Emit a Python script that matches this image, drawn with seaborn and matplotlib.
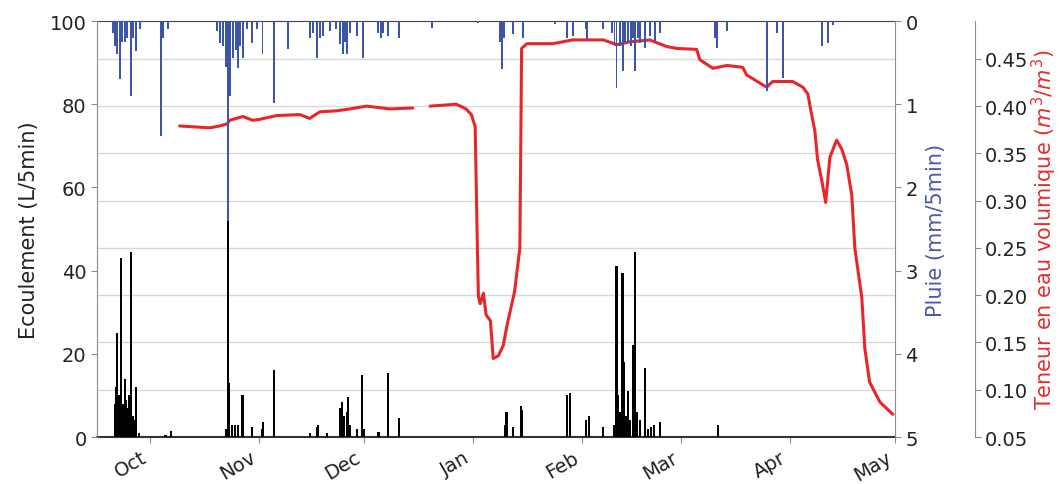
import numpy as np
import pandas as pd
import matplotlib
matplotlib.use("Agg")
import matplotlib.pyplot as plt
import matplotlib.dates as mdates
import seaborn as sns

# flow (L/5min), black bars
flow_time = ["2016-09-21 05:00", "2016-09-21 12:00", "2016-09-21 19:00", "2016-09-22 05:00",
             "2016-09-22 18:00", "2016-09-23 07:00", "2016-09-23 22:00", "2016-09-24 06:00",
             "2016-09-24 12:00", "2016-09-24 20:00", "2016-09-25 00:00", "2016-09-25 14:00",
             "2016-09-26 05:00", "2016-09-26 14:00", "2016-09-27 05:00", "2016-09-28 00:00",
             "2016-10-05 12:00", "2016-10-07 00:00",
             "2016-10-22 15:00", "2016-10-23 05:00", "2016-10-23 14:00", "2016-10-24 07:00",
             "2016-10-25 05:00", "2016-10-26 00:00", "2016-10-27 09:00", "2016-10-30 00:00",
             "2016-11-01 22:00", "2016-11-02 07:00", "2016-11-05 07:00",
             "2016-11-15 12:00", "2016-11-17 12:00", "2016-11-17 19:00", "2016-11-20 10:00",
             "2016-11-24 02:00", "2016-11-24 14:00", "2016-11-25 05:00", "2016-11-26 00:00",
             "2016-11-26 07:00", "2016-11-26 22:00", "2016-11-28 22:00", "2016-11-30 12:00",
             "2016-11-30 22:00", "2016-12-05 02:00", "2016-12-07 17:00", "2016-12-10 19:00",
             "2017-01-10 00:00", "2017-01-10 12:00", "2017-01-12 07:00", "2017-01-14 12:00",
             "2017-01-14 19:00", "2017-01-27 19:00", "2017-01-28 14:00", "2017-02-02 05:00",
             "2017-02-02 22:00", "2017-02-06 22:00",
             "2017-02-10 00:00", "2017-02-10 19:00", "2017-02-11 02:00", "2017-02-11 17:00",
             "2017-02-12 12:00", "2017-02-12 19:00", "2017-02-13 10:00", "2017-02-14 00:00",
             "2017-02-14 17:00", "2017-02-15 14:00", "2017-02-16 00:00", "2017-02-16 14:00",
             "2017-02-17 10:00", "2017-02-18 19:00", "2017-02-19 17:00", "2017-02-20 12:00",
             "2017-02-21 10:00", "2017-02-23 02:00", "2017-03-11 14:00"]
flow_val = [8, 12, 25, 10,
            43, 8, 14, 9,
            6, 7, 10, 44.5,
            5, 4, 12, 1,
            0.5, 1.5,
            2, 52, 13, 3,
            3, 3, 10, 2.5,
            2, 3.5, 16,
            1, 2.5, 3, 1,
            7, 8.5, 5, 6,
            9.5, 3, 2, 15,
            2, 1.2, 15.5, 4.5,
            3, 6, 2.5, 7.5,
            6.5, 10, 10.5, 4,
            5, 2.5,
            3, 41, 10, 6,
            39.5, 18, 5, 11,
            4, 22, 44.5, 6,
            4, 16.5, 2, 2.5,
            3, 3.5, 3]

# rain (mm/5min), blue bars hanging from the top
rain_time = ["2016-09-20 12:00", "2016-09-21 00:00", "2016-09-21 19:00", "2016-09-22 12:00",
             "2016-09-23 00:00", "2016-09-23 22:00", "2016-09-24 12:00", "2016-09-25 14:00",
             "2016-09-26 05:00", "2016-09-27 05:00", "2016-09-28 05:00", "2016-10-04 07:00",
             "2016-10-04 17:00", "2016-10-06 02:00",
             "2016-10-20 02:00", "2016-10-20 22:00", "2016-10-21 19:00", "2016-10-22 14:00",
             "2016-10-23 05:00", "2016-10-23 19:00", "2016-10-24 14:00", "2016-10-25 12:00",
             "2016-10-26 00:00", "2016-10-26 14:00", "2016-10-27 12:00", "2016-10-28 14:00",
             "2016-10-30 00:00", "2016-10-31 10:00", "2016-11-02 02:00", "2016-11-05 07:00",
             "2016-11-09 07:00", "2016-11-15 12:00", "2016-11-16 10:00", "2016-11-17 12:00",
             "2016-11-18 10:00", "2016-11-19 05:00", "2016-11-21 05:00", "2016-11-22 22:00",
             "2016-11-24 02:00", "2016-11-24 22:00", "2016-11-25 12:00", "2016-11-26 00:00",
             "2016-11-26 22:00", "2016-11-28 22:00", "2016-11-30 14:00", "2016-12-04 22:00",
             "2016-12-05 17:00", "2016-12-06 07:00", "2016-12-07 17:00", "2016-12-10 19:00",
             "2016-12-20 05:00", "2017-01-02 07:00", "2017-01-08 14:00", "2017-01-09 02:00",
             "2017-01-09 17:00", "2017-01-12 07:00", "2017-01-15 02:00", "2017-01-24 05:00",
             "2017-01-27 19:00", "2017-01-29 07:00", "2017-02-02 00:00", "2017-02-02 12:00",
             "2017-02-06 22:00", "2017-02-09 14:00", "2017-02-10 05:00", "2017-02-10 19:00",
             "2017-02-11 17:00", "2017-02-12 14:00", "2017-02-13 02:00", "2017-02-14 00:00",
             "2017-02-14 22:00", "2017-02-15 12:00", "2017-02-16 00:00", "2017-02-16 19:00",
             "2017-02-17 10:00", "2017-02-18 19:00", "2017-02-20 05:00", "2017-02-21 17:00",
             "2017-02-23 02:00", "2017-03-10 19:00", "2017-03-11 07:00", "2017-03-14 05:00",
             "2017-03-25 12:00", "2017-03-28 10:00", "2017-03-30 02:00", "2017-04-10 05:00",
             "2017-04-11 22:00", "2017-04-13 07:00"]
rain_val = [0.15, 0.3, 0.4, 0.7,
            0.25, 0.25, 0.2, 0.9,
            0.2, 0.36, 0.1, 1.38,
            0.2, 0.1,
            0.12, 0.26, 0.3, 0.55,
            2.4, 0.9, 0.45, 0.35,
            0.56, 0.3, 0.44, 0.1,
            0.26, 0.1, 0.4, 0.98,
            0.34, 0.2, 0.15, 0.44,
            0.2, 0.18, 0.12, 0.1,
            0.28, 0.4, 0.25, 0.4,
            0.15, 0.18, 0.44, 0.15,
            0.2, 0.15, 0.18, 0.2,
            0.08, 0.02, 0.25, 0.58,
            0.2, 0.16, 0.2, 0.03,
            0.2, 0.18, 0.1, 0.22,
            0.1, 0.15, 0.3, 0.8,
            0.3, 0.6, 0.25, 0.26,
            0.3, 0.2, 0.6, 0.2,
            0.26, 0.32, 0.18, 0.24,
            0.14, 0.2, 0.32, 0.12,
            0.84, 0.14, 0.68, 0.3,
            0.26, 0.05]

# volumetric water content (m3/m3), red line; None = data gap
sm_time = ["2016-10-09 12:00", "2016-10-13 19:00", "2016-10-18 02:00", "2016-10-20 22:00",
           "2016-10-22 22:00", "2016-10-23 19:00", "2016-10-27 12:00", "2016-10-30 07:00",
           "2016-11-01 07:00", "2016-11-06 02:00", "2016-11-12 17:00", "2016-11-15 12:00",
           "2016-11-18 10:00", "2016-11-23 05:00", "2016-11-26 22:00", "2016-12-01 17:00",
           "2016-12-08 07:00", "2016-12-14 19:00", "2016-12-17 00:00", "2016-12-19 19:00",
           "2016-12-27 05:00", "2016-12-30 00:00", "2016-12-31 12:00", "2017-01-01 14:00",
           "2017-01-02 05:00", "2017-01-02 12:00", "2017-01-03 00:00", "2017-01-03 22:00",
           "2017-01-04 17:00", "2017-01-05 22:00", "2017-01-06 17:00", "2017-01-08 05:00",
           "2017-01-09 14:00", "2017-01-10 14:00", "2017-01-12 19:00", "2017-01-14 07:00",
           "2017-01-14 19:00", "2017-01-16 07:00", "2017-01-23 17:00", "2017-01-29 07:00",
           "2017-02-07 00:00", "2017-02-10 22:00", "2017-02-14 14:00", "2017-02-20 05:00",
           "2017-02-25 02:00", "2017-02-27 22:00", "2017-03-05 14:00", "2017-03-06 12:00",
           "2017-03-10 05:00", "2017-03-14 05:00", "2017-03-18 17:00", "2017-03-19 19:00",
           "2017-03-25 12:00", "2017-03-27 05:00", "2017-04-01 22:00", "2017-04-04 19:00",
           "2017-04-06 05:00", "2017-04-07 07:00", "2017-04-08 05:00", "2017-04-09 00:00",
           "2017-04-10 05:00", "2017-04-11 07:00", "2017-04-12 12:00", "2017-04-14 10:00",
           "2017-04-15 22:00", "2017-04-17 07:00", "2017-04-18 17:00", "2017-04-19 14:00",
           "2017-04-21 14:00", "2017-04-22 10:00", "2017-04-23 19:00", "2017-04-26 17:00",
           "2017-04-30 10:00"]
sm_val = [0.379, 0.378, 0.377, 0.379,
          0.381, 0.385, 0.389, 0.385,
          0.386, 0.390, 0.391, 0.387,
          0.394, 0.395, 0.397, 0.400,
          0.397, 0.398, None, 0.400,
          0.402, 0.397, 0.391, 0.378,
          0.250, 0.199, 0.191, 0.202,
          0.179, 0.173, 0.133, 0.136,
          0.147, 0.167, 0.204, 0.250,
          0.461, 0.466, 0.466, 0.470,
          0.470, 0.465, 0.468, 0.470,
          0.463, 0.461, 0.460, 0.449,
          0.440, 0.443, 0.441, 0.433,
          0.420, 0.426, 0.426, 0.420,
          0.413, 0.391, 0.374, 0.343,
          0.321, 0.298, 0.346, 0.364,
          0.354, 0.338, 0.306, 0.250,
          0.197, 0.144, 0.108, 0.087,
          0.074]

sns.set_style("ticks")
plt.rcParams['font.family'] = ['DejaVu Sans']

flow = pd.DataFrame({'time': pd.to_datetime(flow_time), 'q': flow_val})
rain = pd.DataFrame({'time': pd.to_datetime(rain_time), 'p': rain_val})
sm = pd.DataFrame({'time': pd.to_datetime(sm_time), 'theta': pd.to_numeric(sm_val)})
sm['seg'] = sm['theta'].isna().cumsum()
sm = sm.dropna()

fig = plt.figure(figsize=(10.59, 4.85), dpi=100)
ax_sm = fig.add_axes([0.0916, 0.0969, 0.7535, 0.8577])
ax = ax_sm.twinx()
ax_rain = ax_sm.twinx()

spine_col = '#8c8c8c'
txt_col = '#222222'

# water content (base axes: holds grid and dates)
ax_sm.yaxis.grid(True, color='#d8d8d8', lw=1)
sns.lineplot(data=sm, x='time', y='theta', units='seg', estimator=None,
             color='#e8262a', lw=2.2, ax=ax_sm)
ax_sm.set_ylim(0.05, 0.49)
ax_sm.set_yticks(np.arange(0.05, 0.451, 0.05))
ax_sm.yaxis.set_major_formatter(matplotlib.ticker.FormatStrFormatter('%.2f'))
ax_sm.yaxis.tick_right()
ax_sm.yaxis.set_label_position('right')
ax_sm.spines['right'].set_position(('axes', 1.10))
ax_sm.spines['left'].set_visible(False)
ax_sm.set_xlabel('')
ax_sm.set_ylabel('Teneur en eau volumique ($m^3/m^3$)', color='#e0302f', fontsize=15, labelpad=1)

# flow
ax.bar(flow['time'], flow['q'], width=0.6, color='black', linewidth=0)
ax.set_ylim(0, 100)
ax.set_yticks(range(0, 101, 20))
ax.yaxis.tick_left()
ax.yaxis.set_label_position('left')
ax.set_ylabel('Ecoulement (L/5min)', color=txt_col, fontsize=15, labelpad=8)
for s in ['right', 'top', 'bottom']:
    ax.spines[s].set_visible(False)

# rain
ax_rain.bar(rain['time'], rain['p'], width=0.55, color='#3c55a8', linewidth=0)
ax_rain.set_ylim(5, 0)
ax_rain.set_yticks(range(0, 6))
ax_rain.set_ylabel('Pluie (mm/5min)', color='#4a5aa8', fontsize=15, labelpad=6)
for s in ['left', 'top', 'bottom']:
    ax_rain.spines[s].set_visible(False)

ax_sm.set_xlim(pd.Timestamp('2016-09-16'), pd.Timestamp('2017-05-01'))
ax_sm.xaxis.set_major_locator(mdates.MonthLocator())
ax_sm.xaxis.set_major_formatter(mdates.DateFormatter('%b'))
plt.setp(ax_sm.get_xticklabels(), rotation=30, ha='right')

for a in [ax_sm, ax, ax_rain]:
    a.tick_params(labelsize=14, length=4, color=spine_col, labelcolor=txt_col)
    for s in a.spines.values():
        s.set_color(spine_col)
ax_sm.spines['top'].set_color('#444444')
ax_sm.spines['bottom'].set_color('#333333')
ax_sm.spines['bottom'].set_linewidth(1.5)

fig.savefig('out.png', dpi=100)
